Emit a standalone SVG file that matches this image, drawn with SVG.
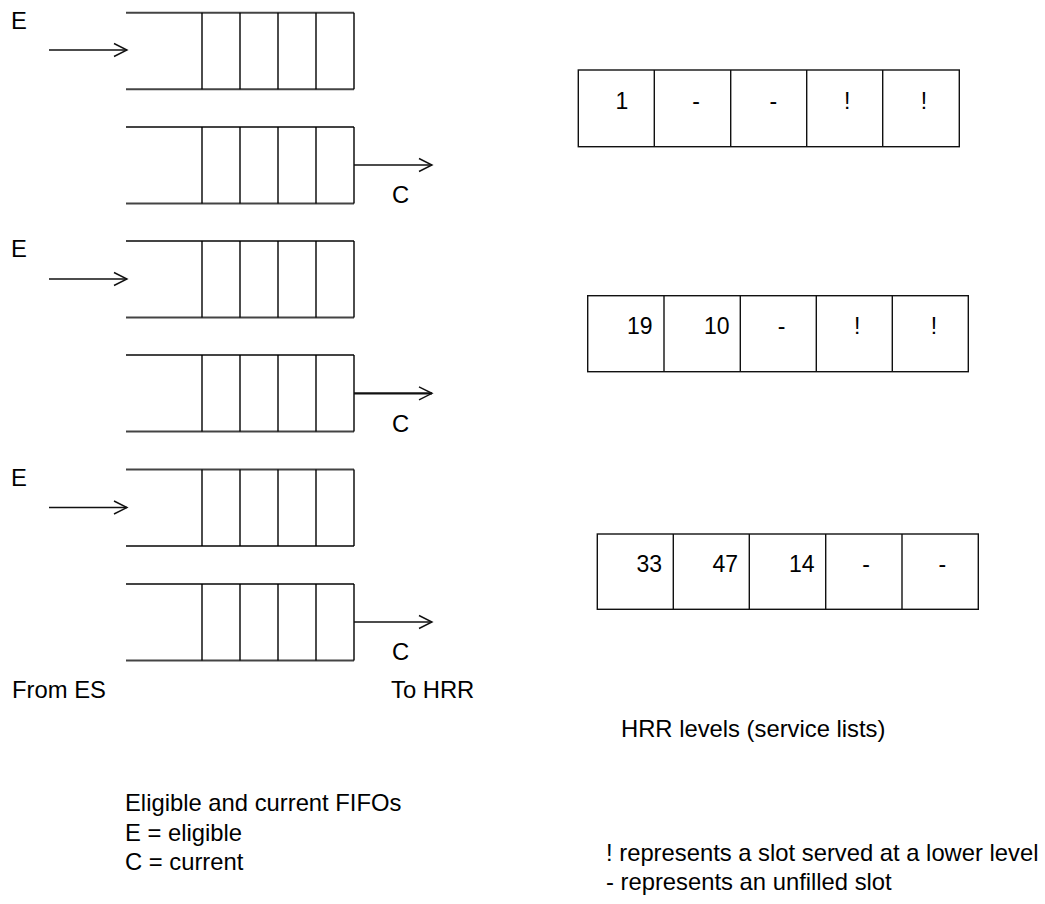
<svg xmlns="http://www.w3.org/2000/svg" width="1045" height="904" viewBox="0 0 1045 904">
  <style>
    text { font-family: "Liberation Sans", Arial, sans-serif; font-size: 23.8px; fill: #000; }
    .num { font-size: 23px; }
    .rail { stroke: #444; stroke-width: 2; fill: none; }
    .cell { stroke: #000; stroke-width: 1.4; fill: none; }
    .slot { stroke: #111; stroke-width: 1.4; fill: none; }
    .edge { stroke: #111; stroke-width: 1.4; fill: none; marker-end: url(#open); }
    .edge.bold { stroke-width: 2.2; }
    .mid { text-anchor: middle; }
    .end { text-anchor: end; }
  </style>
  <defs>
    <marker id="open" markerUnits="userSpaceOnUse" markerWidth="16" markerHeight="16" refX="14" refY="8" orient="auto" overflow="visible">
      <path d="M1,1.5 L14,8 L1,14.5" fill="none" stroke="#111" stroke-width="1.4"/>
    </marker>
    <!-- one FIFO: open left end, four cells on the right -->
    <g id="fifo">
      <line class="rail" x1="126" y1="0" x2="354" y2="0"/>
      <line class="rail" x1="126" y1="76.5" x2="354" y2="76.5"/>
      <line class="cell" x1="202" y1="0" x2="202" y2="76.5"/>
      <line class="cell" x1="240" y1="0" x2="240" y2="76.5"/>
      <line class="cell" x1="278" y1="0" x2="278" y2="76.5"/>
      <line class="cell" x1="316" y1="0" x2="316" y2="76.5"/>
      <line class="cell" x1="354" y1="0" x2="354" y2="76.5"/>
    </g>
  </defs>

  <!-- eligible / current FIFO pairs -->
  <g id="fifo-e1"><use href="#fifo" y="12.7"/><text x="11" y="29">E</text></g>
  <g id="fifo-c1"><use href="#fifo" y="127"/><text x="392" y="203">C</text></g>
  <g id="fifo-e2"><use href="#fifo" y="241"/><text x="11" y="257">E</text></g>
  <g id="fifo-c2"><use href="#fifo" y="355"/><text x="392" y="432">C</text></g>
  <g id="fifo-e3"><use href="#fifo" y="469.5"/><text x="11" y="486">E</text></g>
  <g id="fifo-c3"><use href="#fifo" y="584"/><text x="392" y="660">C</text></g>

  <!-- HRR service lists -->
  <g id="level-1">
    <rect class="slot" x="578.3" y="70" width="381" height="76.7"/>
    <line class="slot" x1="654.3" y1="70" x2="654.3" y2="146.7"/>
    <line class="slot" x1="730.7" y1="70" x2="730.7" y2="146.7"/>
    <line class="slot" x1="806.7" y1="70" x2="806.7" y2="146.7"/>
    <line class="slot" x1="882.7" y1="70" x2="882.7" y2="146.7"/>
    <text class="num mid" x="622" y="109">1</text>
    <text class="num mid" x="696" y="109">-</text>
    <text class="num mid" x="773.3" y="109">-</text>
    <text class="num mid" x="847.3" y="109">!</text>
    <text class="num mid" x="924" y="109">!</text>
  </g>
  <g id="level-2">
    <rect class="slot" x="587.7" y="295.7" width="380.6" height="76"/>
    <line class="slot" x1="664" y1="295.7" x2="664" y2="371.7"/>
    <line class="slot" x1="740.3" y1="295.7" x2="740.3" y2="371.7"/>
    <line class="slot" x1="816.3" y1="295.7" x2="816.3" y2="371.7"/>
    <line class="slot" x1="892.3" y1="295.7" x2="892.3" y2="371.7"/>
    <text class="num end" x="652.5" y="334.3">19</text>
    <text class="num end" x="729.5" y="334.3">10</text>
    <text class="num mid" x="781.7" y="334.3">-</text>
    <text class="num mid" x="857.3" y="334.3">!</text>
    <text class="num mid" x="934" y="334.3">!</text>
  </g>
  <g id="level-3">
    <rect class="slot" x="597.3" y="534" width="381" height="75.3"/>
    <line class="slot" x1="673.3" y1="534" x2="673.3" y2="609.3"/>
    <line class="slot" x1="749.3" y1="534" x2="749.3" y2="609.3"/>
    <line class="slot" x1="825.7" y1="534" x2="825.7" y2="609.3"/>
    <line class="slot" x1="902" y1="534" x2="902" y2="609.3"/>
    <text class="num end" x="662" y="572.3">33</text>
    <text class="num end" x="738" y="572.3">47</text>
    <text class="num end" x="814.5" y="572.3">14</text>
    <text class="num mid" x="866" y="572.3">-</text>
    <text class="num mid" x="942.3" y="572.3">-</text>
  </g>

  <!-- connectors -->
  <g id="connectors">
    <line class="edge" x1="49" y1="50" x2="127" y2="50"/>
    <line class="edge" x1="354" y1="165" x2="432" y2="165"/>
    <line class="edge" x1="49" y1="279" x2="127" y2="279"/>
    <line class="edge bold" x1="354" y1="393.3" x2="432" y2="393.3"/>
    <line class="edge" x1="49" y1="507.5" x2="127" y2="507.5"/>
    <line class="edge" x1="354" y1="622" x2="432" y2="622"/>
  </g>

  <!-- captions and legend -->
  <g id="labels">
    <text x="12" y="698">From ES</text>
    <text x="391" y="698">To HRR</text>
    <text x="621" y="737">HRR levels (service lists)</text>
    <text x="125" y="811">Eligible and current FIFOs</text>
    <text x="125" y="841">E = eligible</text>
    <text x="125" y="870">C = current</text>
    <text x="606" y="861">! represents a slot served at a lower level</text>
    <text x="606" y="890">- represents an unfilled slot</text>
  </g>
</svg>
